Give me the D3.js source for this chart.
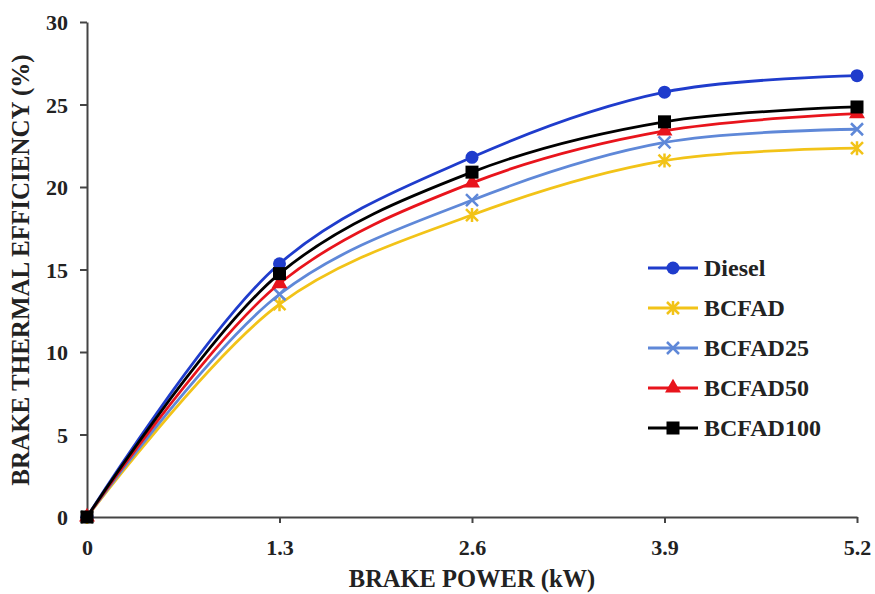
<!DOCTYPE html>
<html><head><meta charset="utf-8">
<script src="https://cdn.jsdelivr.net/npm/d3@7"></script>
<style>
body{margin:0;background:#fff;}
svg{display:block;}
text{font-family:"Liberation Serif","Times New Roman",serif;font-weight:bold;fill:#222;}
</style></head>
<body><svg id="c" width="875" height="594"></svg>
<script>
const xValues = [0, 1.3, 2.6, 3.9, 5.2];
const xTickLabels = ["0", "1.3", "2.6", "3.9", "5.2"];
const yTicks = [0, 5, 10, 15, 20, 25, 30];
const seriesNames = ["Diesel", "BCFAD", "BCFAD25", "BCFAD50", "BCFAD100"];
const diesel   = [0, 15.35, 21.8, 25.75, 26.75];
const bcfad    = [0, 12.9, 18.3, 21.6, 22.35];
const bcfad25  = [0, 13.5, 19.2, 22.7, 23.5];
const bcfad50  = [0, 14.15, 20.25, 23.4, 24.45];
const bcfad100 = [0, 14.75, 20.9, 23.95, 24.85];
const seriesValues = [diesel, bcfad, bcfad25, bcfad50, bcfad100];
const colors = ["#1f3ccc", "#f2c318", "#5f88d8", "#e8141c", "#000000"];
const markers = ["circle", "star", "x", "triangle", "square"];

const svg = d3.select("#c");
const x = d3.scaleLinear().domain([0, 5.2]).range([87, 857]);
const y = d3.scaleLinear().domain([0, 30]).range([517, 22]);

// axes
const xAxis = d3.axisBottom(x).tickValues(xValues).tickFormat((d,i)=>xTickLabels[i]).tickSize(6).tickSizeOuter(0).tickPadding(16);
const yAxis = d3.axisLeft(y).tickValues(yTicks).tickFormat(d3.format("d")).tickSize(7).tickSizeOuter(0).tickPadding(12);
const gx = svg.append("g").attr("transform","translate(0,517)").call(xAxis);
const gy = svg.append("g").attr("transform","translate(87,0)").call(yAxis);
[gx, gy].forEach(g=>{
  g.select(".domain").attr("stroke","#444").attr("stroke-width",2);
  g.selectAll(".tick line").attr("stroke","#444").attr("stroke-width",2);
  g.selectAll(".tick text").style("font-size","22px").attr("fill","#222")
   .style("font-family","'Liberation Serif',serif").style("font-weight","bold");
});
gy.selectAll(".tick text").attr("dy","0.35em");

// axis titles
svg.append("text").attr("x",472).attr("y",587).attr("text-anchor","middle")
  .style("font-size","24.5px").text("BRAKE POWER (kW)");
svg.append("text").attr("transform","translate(29,270) rotate(-90)").attr("text-anchor","middle")
  .style("font-size","25px").text("BRAKE THERMAL EFFICIENCY (%)");

function drawMarker(g, type, cx, cy, color){
  if(type==="circle"){
    g.append("circle").attr("cx",cx).attr("cy",cy).attr("r",6.5).attr("fill",color);
  } else if(type==="square"){
    g.append("rect").attr("x",cx-6.5).attr("y",cy-6.5).attr("width",13).attr("height",13).attr("fill",color);
  } else if(type==="triangle"){
    g.append("path").attr("d",d3.symbol(d3.symbolTriangle,110)()).attr("transform",`translate(${cx},${cy})`).attr("fill",color);
  } else if(type==="x"){
    g.append("path").attr("d",`M${cx-6},${cy-6}L${cx+6},${cy+6}M${cx-6},${cy+6}L${cx+6},${cy-6}`)
      .attr("stroke",color).attr("stroke-width",2.5).attr("fill","none");
  } else if(type==="star"){
    g.append("path").attr("d",`M${cx-6},${cy-6}L${cx+6},${cy+6}M${cx-6},${cy+6}L${cx+6},${cy-6}M${cx},${cy-7}L${cx},${cy+7}`)
      .attr("stroke",color).attr("stroke-width",2.5).attr("fill","none");
  }
}

const line = d3.line().x(d=>x(d[0])).y(d=>y(d[1])).curve(d3.curveCatmullRom.alpha(0.5));
seriesValues.forEach((vals,i)=>{
  const pts = xValues.map((xv,j)=>[xv, vals[j]]);
  const g = svg.append("g");
  g.append("path").attr("d",line(pts)).attr("fill","none").attr("stroke",colors[i]).attr("stroke-width",2.8);
  pts.forEach(p=>drawMarker(g, markers[i], x(p[0]), y(p[1]), colors[i]));
});

// legend
const lg = svg.append("g");
seriesNames.forEach((n,i)=>{
  const yy = 268 + i*40;
  lg.append("line").attr("x1",648).attr("x2",698).attr("y1",yy).attr("y2",yy).attr("stroke",colors[i]).attr("stroke-width",2.8);
  drawMarker(lg, markers[i], 673, yy, colors[i]);
  lg.append("text").attr("x",704).attr("y",yy).attr("dy","0.35em").style("font-size","24px").text(n);
});
</script></body></html>
